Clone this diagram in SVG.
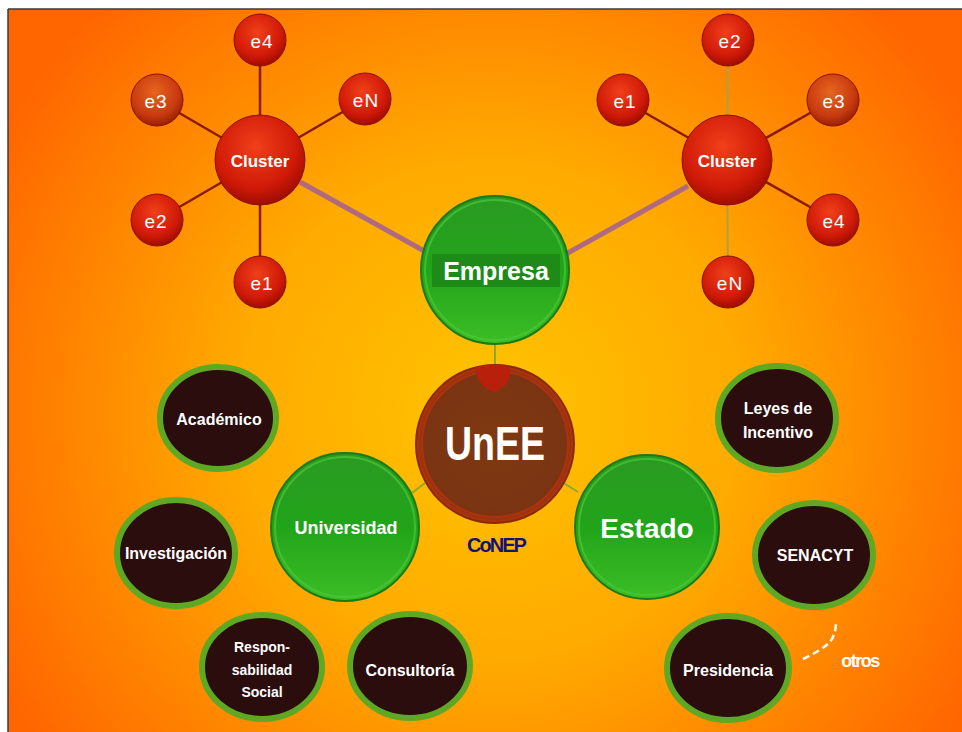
<svg xmlns="http://www.w3.org/2000/svg" width="962" height="732" viewBox="0 0 962 732">
<defs>
  <radialGradient id="bg" cx="490" cy="410" r="560" gradientUnits="userSpaceOnUse">
    <stop offset="0" stop-color="#FFC400"/>
    <stop offset="0.45" stop-color="#FFAA00"/>
    <stop offset="1" stop-color="#FF6600"/>
  </radialGradient>
  <radialGradient id="red" cx="0.45" cy="0.35" r="0.65">
    <stop offset="0" stop-color="#F0401A"/>
    <stop offset="0.7" stop-color="#D01A08"/>
    <stop offset="1" stop-color="#A00C00"/>
  </radialGradient>
  <radialGradient id="redo" cx="0.45" cy="0.35" r="0.65">
    <stop offset="0" stop-color="#E8651E"/>
    <stop offset="0.7" stop-color="#C83A10"/>
    <stop offset="1" stop-color="#9A2000"/>
  </radialGradient>
  <linearGradient id="green" x1="0" y1="0" x2="0" y2="1">
    <stop offset="0" stop-color="#2A9A22"/>
    <stop offset="0.5" stop-color="#22A41A"/>
    <stop offset="1" stop-color="#3CBE26"/>
  </linearGradient>
  <radialGradient id="brown" cx="0.5" cy="0.5" r="0.5">
    <stop offset="0" stop-color="#7E3A12"/>
    <stop offset="0.9" stop-color="#7A3412"/>
    <stop offset="1" stop-color="#B8340C"/>
  </radialGradient>
</defs>
<style>
  .t { font-family: "Liberation Sans", Arial, sans-serif; font-weight: bold; fill: #FFFFFF; text-anchor: middle; dominant-baseline: central; }
  .e { font-weight: normal; font-size: 19px; letter-spacing: 1px; }
  .ball { stroke: #8A1000; stroke-width: 1; }
  .dark { fill: #2B0D0D; stroke: #5FA824; stroke-width: 6; }
  .spoke { stroke: #8A1A0A; stroke-width: 2.5; }
  .spokeg { stroke: #B0A040; stroke-width: 2; }
  .link { stroke: #B06A80; stroke-width: 5; }
  .gline { stroke: #8AAA30; stroke-width: 2; }
  .gc { fill: url(#green); stroke: #1A7A14; stroke-width: 2; }
  .gring { fill: none; stroke: #4CC83A; stroke-width: 2; opacity: 0.7; }
</style>

<rect x="0" y="0" width="962" height="732" fill="#FFFFFF"/>
<rect x="8" y="9" width="954" height="723" fill="url(#bg)"/>
<line x1="8" y1="9" x2="962" y2="9" stroke="#3A3A3A" stroke-width="1.5"/>
<line x1="8" y1="9" x2="8" y2="732" stroke="#3A3A3A" stroke-width="1.5"/>

<g id="connectors">
  <line class="spoke" x1="260" y1="160" x2="260" y2="40"/>
  <line class="spoke" x1="260" y1="160" x2="157" y2="100"/>
  <line class="spoke" x1="260" y1="160" x2="365" y2="99"/>
  <line class="spoke" x1="260" y1="160" x2="157" y2="220"/>
  <line class="spoke" x1="260" y1="160" x2="260" y2="282"/>
  <line class="spokeg" x1="727" y1="160" x2="728" y2="40"/>
  <line class="spoke" x1="727" y1="160" x2="623" y2="100"/>
  <line class="spoke" x1="727" y1="160" x2="833" y2="100"/>
  <line class="spoke" x1="727" y1="160" x2="833" y2="220"/>
  <line class="spokeg" x1="727" y1="160" x2="728" y2="282"/>
  <line class="link" x1="300" y1="182" x2="426" y2="252"/>
  <line class="link" x1="688" y1="186" x2="566" y2="254"/>
  <line class="gline" x1="495" y1="345" x2="495" y2="367"/>
  <line class="gline" x1="412" y1="493" x2="425" y2="483"/>
  <line class="gline" x1="562" y1="482" x2="578" y2="492"/>
  <path d="M803,659 Q822,650 830,642 Q836,634 836,622" fill="none" stroke="#FFFFFF" stroke-width="2.5" stroke-dasharray="7,4"/>
</g>

<g id="cluster-left">
  <circle class="ball" cx="260" cy="160" r="45" fill="url(#red)"/>
  <text class="t" x="260" y="161" font-size="17">Cluster</text>
</g>
<g id="l-e4"><circle class="ball" cx="260" cy="40" r="26" fill="url(#red)"/><text class="t e" x="262" y="41">e4</text></g>
<g id="l-e3"><circle class="ball" cx="157" cy="100" r="26" fill="url(#redo)"/><text class="t e" x="156" y="101">e3</text></g>
<g id="l-eN"><circle class="ball" cx="365" cy="99" r="26" fill="url(#red)"/><text class="t e" x="366" y="100">eN</text></g>
<g id="l-e2"><circle class="ball" cx="157" cy="220" r="26" fill="url(#red)"/><text class="t e" x="156" y="221">e2</text></g>
<g id="l-e1"><circle class="ball" cx="260" cy="282" r="26" fill="url(#red)"/><text class="t e" x="262" y="283">e1</text></g>

<g id="cluster-right">
  <circle class="ball" cx="727" cy="160" r="45" fill="url(#red)"/>
  <text class="t" x="727" y="161" font-size="17">Cluster</text>
</g>
<g id="r-e2"><circle class="ball" cx="728" cy="40" r="26" fill="url(#red)"/><text class="t e" x="730" y="41">e2</text></g>
<g id="r-e1"><circle class="ball" cx="623" cy="100" r="26" fill="url(#red)"/><text class="t e" x="625" y="101">e1</text></g>
<g id="r-e3"><circle class="ball" cx="833" cy="100" r="26" fill="url(#redo)"/><text class="t e" x="834" y="101">e3</text></g>
<g id="r-e4"><circle class="ball" cx="833" cy="220" r="26" fill="url(#red)"/><text class="t e" x="834" y="221">e4</text></g>
<g id="r-eN"><circle class="ball" cx="728" cy="282" r="26" fill="url(#red)"/><text class="t e" x="730" y="283">eN</text></g>

<g id="empresa">
  <circle class="gc" cx="495" cy="270" r="74"/>
  <circle class="gring" cx="495" cy="270" r="70"/>
  <rect x="432" y="254" width="128" height="33" fill="#1E8A18"/>
  <text class="t" x="496" y="271" font-size="25">Empresa</text>
</g>

<g id="unee">
  <circle cx="495" cy="444" r="79" fill="url(#brown)" stroke="#8A2A08" stroke-width="2"/>
  <circle cx="495" cy="444" r="73" fill="none" stroke="#C8300C" stroke-width="2" opacity="0.6"/>
  <path d="M475,367 Q495,362 510,367 Q512,385 495,392 Q478,388 475,367 Z" fill="#B8200C"/>
  <text class="t" x="495" y="443" font-size="48" textLength="100" lengthAdjust="spacingAndGlyphs">UnEE</text>
</g>

<g id="universidad">
  <circle class="gc" cx="345" cy="527" r="74"/>
  <circle class="gring" cx="345" cy="527" r="70"/>
  <text class="t" x="346" y="528" font-size="18">Universidad</text>
</g>

<g id="estado">
  <circle class="gc" cx="647" cy="527" r="72"/>
  <circle class="gring" cx="647" cy="527" r="68"/>
  <text class="t" x="647" y="528" font-size="28">Estado</text>
</g>

<text x="496" y="545" font-family="'Liberation Sans', Arial, sans-serif" font-weight="bold" font-size="20" fill="#141470" text-anchor="middle" dominant-baseline="central" letter-spacing="-2">CoNEP</text>

<g id="academico">
  <ellipse class="dark" cx="218" cy="418" rx="58" ry="51"/>
  <text class="t" x="219" y="419" font-size="16">Académico</text>
</g>
<g id="investigacion">
  <ellipse class="dark" cx="176" cy="553" rx="59" ry="53"/>
  <text class="t" x="176" y="553" font-size="16">Investigación</text>
</g>
<g id="responsabilidad">
  <ellipse class="dark" cx="262" cy="667" rx="60" ry="52"/>
  <text class="t" x="262" y="647" font-size="14">Respon-</text>
  <text class="t" x="262" y="670" font-size="14">sabilidad</text>
  <text class="t" x="262" y="692" font-size="14">Social</text>
</g>
<g id="consultoria">
  <ellipse class="dark" cx="410" cy="666" rx="60" ry="52"/>
  <text class="t" x="410" y="670" font-size="16">Consultoría</text>
</g>
<g id="leyes">
  <ellipse class="dark" cx="777" cy="418" rx="59" ry="52"/>
  <text class="t" x="778" y="408" font-size="16">Leyes de</text>
  <text class="t" x="778" y="432" font-size="16">Incentivo</text>
</g>
<g id="senacyt">
  <ellipse class="dark" cx="814" cy="555" rx="59" ry="52"/>
  <text class="t" x="815" y="555" font-size="16">SENACYT</text>
</g>
<g id="presidencia">
  <ellipse class="dark" cx="728" cy="668" rx="61" ry="52"/>
  <text class="t" x="728" y="670" font-size="16">Presidencia</text>
</g>

<text x="860" y="661" font-family="'Liberation Sans', Arial, sans-serif" font-weight="bold" font-size="18" fill="#FFFFFF" text-anchor="middle" dominant-baseline="central" letter-spacing="-1.5">otros</text>
</svg>
